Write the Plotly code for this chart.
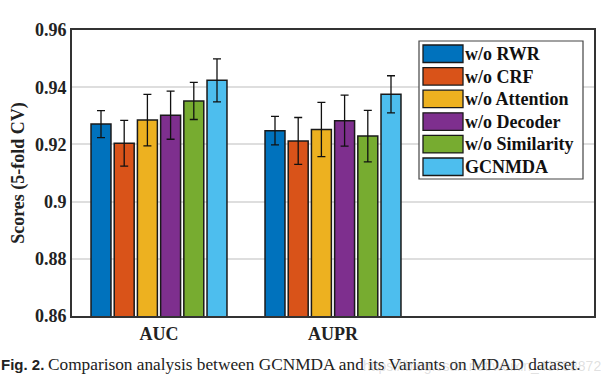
import plotly.graph_objects as go

# ---- data ----
categories = ["AUC", "AUPR"]
series_names = ["w/o RWR", "w/o CRF", "w/o Attention", "w/o Decoder", "w/o Similarity", "GCNMDA"]
auc_values = [0.9271, 0.9204, 0.9285, 0.9302, 0.9352, 0.9424]
aupr_values = [0.9248, 0.9212, 0.9252, 0.9283, 0.9229, 0.9375]
auc_errors = [0.0047, 0.0080, 0.0090, 0.0084, 0.0065, 0.0075]
aupr_errors = [0.0050, 0.0082, 0.0095, 0.0089, 0.0090, 0.0065]
y_ticks = [0.86, 0.88, 0.90, 0.92, 0.94, 0.96]
y_tick_labels = ["0.86", "0.88", "0.9", "0.92", "0.94", "0.96"]

colors = ["#0072BD", "#D95319", "#EDB120", "#7E2F8E", "#77AC30", "#4DBEEE"]

W, H = 607, 385
L, R, T, B = 72, 13, 30, 69
pw, ph = W - L - R, H - T - B

SERIF = "Liberation Serif, Times New Roman, serif"

fig = go.Figure()
x_pos = list(range(1, len(categories) + 1))
for i, name in enumerate(series_names):
    fig.add_trace(go.Bar(
        x=x_pos,
        y=[auc_values[i], aupr_values[i]],
        name=name,
        marker=dict(color=colors[i], line=dict(color="#1a1a1a", width=1.5)),
        error_y=dict(type="data", array=[auc_errors[i], aupr_errors[i]],
                     color="#111111", thickness=1.3, width=4),
        showlegend=False,
    ))

fig.update_layout(
    width=W, height=H,
    margin=dict(l=L, r=R, t=T, b=B),
    paper_bgcolor="white", plot_bgcolor="white",
    barmode="group", bargap=0.2, bargroupgap=0.14,
    font=dict(family=SERIF, size=16, color="#222"),
    showlegend=False,
)
fig.update_xaxes(
    range=[0.5, 3.5], tickvals=x_pos, ticktext=["<b>%s</b>" % c for c in categories],
    tickfont=dict(family=SERIF, size=18, color="#222"),
    showgrid=False, showline=True, linecolor="#333", linewidth=2, mirror=True,
    ticks="", zeroline=False,
)
fig.update_yaxes(
    range=[0.86, 0.96], tickvals=y_ticks, ticktext=["<b>%s</b>" % t for t in y_tick_labels],
    tickfont=dict(family=SERIF, size=18, color="#222"),
    showgrid=True, gridcolor="#dedede", gridwidth=1.5,
    showline=True, linecolor="#333", linewidth=2, mirror=True,
    ticks="", zeroline=False,
    title=dict(text="<b>Scores (5-fold CV)</b>", font=dict(family=SERIF, size=18, color="#222"), standoff=6),
)

# ---- manual legend (wide swatches like the original) ----
def px_x(x):
    return (x - L) / pw
def px_y(y):
    return (H - B - y) / ph

shapes = []
annotations = []
shapes.append(dict(type="rect", xref="paper", yref="paper",
                   x0=px_x(419), x1=px_x(583), y0=px_y(179), y1=px_y(41),
                   line=dict(color="#444", width=1.2), fillcolor="white", layer="above"))
for i, name in enumerate(series_names):
    top = 45 + i * 22.6
    shapes.append(dict(type="rect", xref="paper", yref="paper",
                       x0=px_x(423), x1=px_x(463), y0=px_y(top + 17.5), y1=px_y(top),
                       line=dict(color="#1a1a1a", width=1.3), fillcolor=colors[i], layer="above"))
    annotations.append(dict(xref="paper", yref="paper", x=px_x(465), y=px_y(top + 9),
                            xanchor="left", yanchor="middle", showarrow=False,
                            text="<b>%s</b>" % name, borderpad=0, xshift=-1,
                            font=dict(family=SERIF, size=18, color="#111")))

# caption
annotations.append(dict(xref="paper", yref="paper", x=px_x(0), y=px_y(364),
                        xanchor="left", yanchor="middle", showarrow=False,
                        text="<b>Fig. 2.</b>", borderpad=0,
                        font=dict(family="Liberation Sans, Arial, sans-serif", size=15, color="#222")))
annotations.append(dict(xref="paper", yref="paper", x=px_x(47), y=px_y(364),
                        xanchor="left", yanchor="middle", showarrow=False,
                        text="Comparison analysis between GCNMDA and its Variants on MDAD dataset.",
                        borderpad=0,
                        font=dict(family=SERIF, size=17.3, color="#222")))
annotations.append(dict(xref="paper", yref="paper", x=px_x(603), y=px_y(366),
                        xanchor="right", yanchor="middle", showarrow=False,
                        text="https://blog.csdn.net/weixin_43758872",
                        font=dict(family="Liberation Sans, Arial, sans-serif", size=14,
                                  color="rgba(150,150,150,0.3)")))

fig.update_layout(shapes=shapes, annotations=annotations)
fig.write_html("out.html", config={"displayModeBar": False},
               post_script="document.body.style.margin='0px';")
